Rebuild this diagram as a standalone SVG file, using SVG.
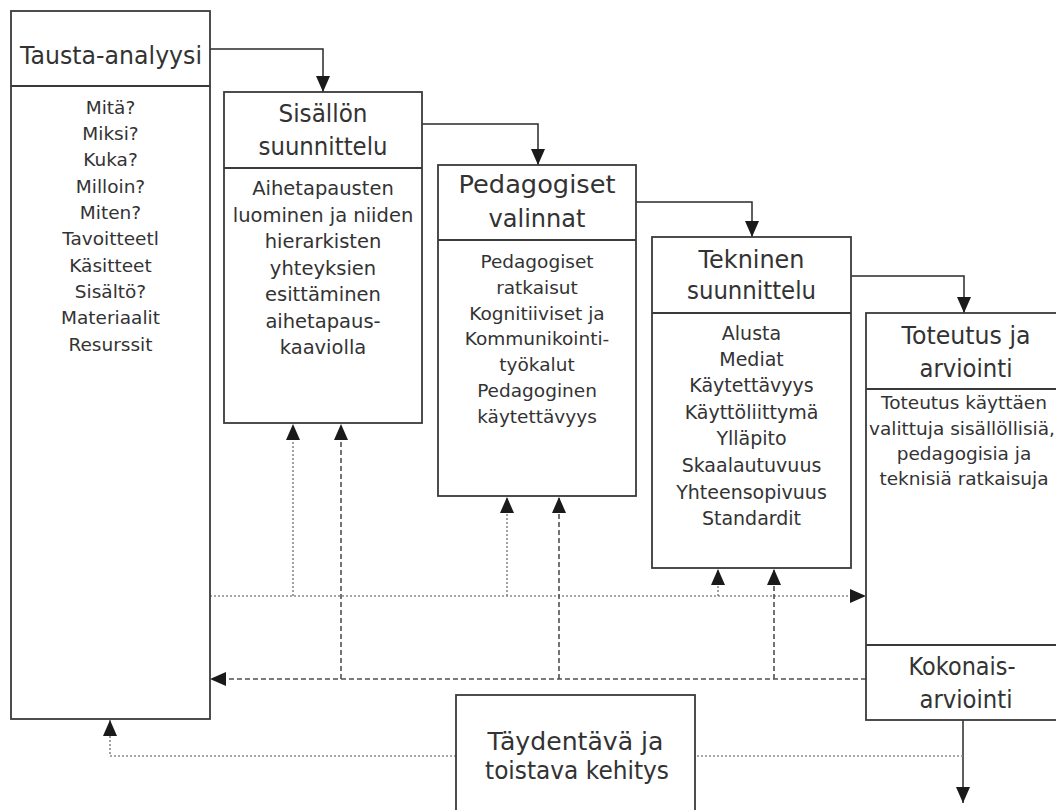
<svg xmlns="http://www.w3.org/2000/svg" width="1056" height="810" viewBox="0 0 1056 810">
<style>
  .box { fill: #ffffff; stroke: #3a3a3a; stroke-width: 1.8; }
  .div { stroke: #3a3a3a; stroke-width: 1.8; fill: none; }
  .solid { fill: none; stroke: #2a2a2a; stroke-width: 1.5; }
  .dot { fill: none; stroke: #8a8a8a; stroke-width: 1.6; stroke-dasharray: 2 2; }
  .dash { fill: none; stroke: #505050; stroke-width: 1.6; stroke-dasharray: 5 3; }
  text { font-family: "DejaVu Sans", "Liberation Sans", sans-serif; fill: #333333; text-anchor: middle; }
  .h { font-size: 25.5px; }
  .b1 { font-size: 18.5px; }
  .b2 { font-size: 19.5px; }
  .b3 { font-size: 18.5px; }
  .b4 { font-size: 19px; }
  .b5 { font-size: 18.5px; }
</style>
<defs>
  <marker id="ah" viewBox="0 0 16 14" refX="16" refY="7" markerWidth="16" markerHeight="14" markerUnits="userSpaceOnUse" orient="auto">
    <path d="M0,0 L16,7 L0,14 z" fill="#1a1a1a"/>
  </marker>
</defs>
<rect width="1056" height="810" fill="#ffffff"/>

<g id="connectors">
  <path class="solid" d="M210,49 H323 V92" marker-end="url(#ah)"/>
  <path class="solid" d="M422,124 H538 V165" marker-end="url(#ah)"/>
  <path class="solid" d="M636,202 H752 V237" marker-end="url(#ah)"/>
  <path class="solid" d="M851,276 H964 V313" marker-end="url(#ah)"/>
  <path class="dot" d="M210,596 H866" marker-end="url(#ah)"/>
  <path class="dot" d="M293,596 V424" marker-end="url(#ah)"/>
  <path class="dot" d="M507,596 V497" marker-end="url(#ah)"/>
  <path class="dot" d="M718,596 V569" marker-end="url(#ah)"/>
  <path class="dash" d="M866,679 H210" marker-end="url(#ah)"/>
  <path class="dash" d="M341,679 V424" marker-end="url(#ah)"/>
  <path class="dash" d="M559,679 V497" marker-end="url(#ah)"/>
  <path class="dash" d="M774,679 V569" marker-end="url(#ah)"/>
  <path class="solid" d="M963,720 V803" marker-end="url(#ah)"/>
  <path class="dot" d="M963,756 H695"/>
  <path class="dot" d="M456,756 H110 V720" marker-end="url(#ah)"/>
</g>

<g id="tausta-analyysi">
  <rect class="box" x="11" y="11" width="199" height="708"/>
  <line class="div" x1="11" y1="86" x2="210" y2="86"/>
  <text class="h" x="111" y="64" textLength="182" lengthAdjust="spacingAndGlyphs">Tausta-analyysi</text>
  <text class="b1" x="110.5" y="114">Mitä?</text>
  <text class="b1" x="110.5" y="140">Miksi?</text>
  <text class="b1" x="110.5" y="166">Kuka?</text>
  <text class="b1" x="110.5" y="193">Milloin?</text>
  <text class="b1" x="110.5" y="219">Miten?</text>
  <text class="b1" x="110.5" y="245">Tavoitteetl</text>
  <text class="b1" x="110.5" y="272">Käsitteet</text>
  <text class="b1" x="110.5" y="298">Sisältö?</text>
  <text class="b1" x="110.5" y="324">Materiaalit</text>
  <text class="b1" x="110.5" y="351">Resurssit</text>
</g>

<g id="sisallon-suunnittelu">
  <rect class="box" x="224" y="92" width="198" height="331"/>
  <line class="div" x1="224" y1="168" x2="422" y2="168"/>
  <text class="h" x="323" y="122" textLength="89" lengthAdjust="spacingAndGlyphs">Sisällön</text>
  <text class="h" x="323" y="155" textLength="129" lengthAdjust="spacingAndGlyphs">suunnittelu</text>
  <text class="b2" x="323" y="195">Aihetapausten</text>
  <text class="b2" x="323" y="221.5">luominen ja niiden</text>
  <text class="b2" x="323" y="248">hierarkisten</text>
  <text class="b2" x="323" y="274.5">yhteyksien</text>
  <text class="b2" x="323" y="301">esittäminen</text>
  <text class="b2" x="323" y="327.5">aihetapaus-</text>
  <text class="b2" x="323" y="354">kaaviolla</text>
</g>

<g id="pedagogiset-valinnat">
  <rect class="box" x="438" y="165" width="198" height="331"/>
  <line class="div" x1="438" y1="240" x2="636" y2="240"/>
  <text class="h" x="537" y="193" textLength="157" lengthAdjust="spacingAndGlyphs">Pedagogiset</text>
  <text class="h" x="537" y="227" textLength="97" lengthAdjust="spacingAndGlyphs">valinnat</text>
  <text class="b3" x="537" y="268">Pedagogiset</text>
  <text class="b3" x="537" y="294">ratkaisut</text>
  <text class="b3" x="537" y="320">Kognitiiviset ja</text>
  <text class="b3" x="537" y="345">Kommunikointi-</text>
  <text class="b3" x="537" y="371">työkalut</text>
  <text class="b3" x="537" y="397">Pedagoginen</text>
  <text class="b3" x="537" y="423">käytettävyys</text>
</g>

<g id="tekninen-suunnittelu">
  <rect class="box" x="652" y="237" width="199" height="331"/>
  <line class="div" x1="652" y1="313" x2="851" y2="313"/>
  <text class="h" x="751.5" y="268" textLength="106" lengthAdjust="spacingAndGlyphs">Tekninen</text>
  <text class="h" x="751.5" y="299" textLength="129" lengthAdjust="spacingAndGlyphs">suunnittelu</text>
  <text class="b4" x="751.5" y="340">Alusta</text>
  <text class="b4" x="751.5" y="366">Mediat</text>
  <text class="b4" x="751.5" y="392">Käytettävyys</text>
  <text class="b4" x="751.5" y="419">Käyttöliittymä</text>
  <text class="b4" x="751.5" y="445">Ylläpito</text>
  <text class="b4" x="751.5" y="472">Skaalautuvuus</text>
  <text class="b4" x="751.5" y="499">Yhteensopivuus</text>
  <text class="b4" x="751.5" y="525">Standardit</text>
</g>

<g id="toteutus-ja-arviointi">
  <rect class="box" x="866" y="313" width="210" height="407"/>
  <line class="div" x1="866" y1="389" x2="1076" y2="389"/>
  <line class="div" x1="866" y1="645" x2="1076" y2="645"/>
  <text class="h" x="966" y="344" textLength="129" lengthAdjust="spacingAndGlyphs">Toteutus ja</text>
  <text class="h" x="966" y="377" textLength="93" lengthAdjust="spacingAndGlyphs">arviointi</text>
  <text class="b5" x="964" y="409">Toteutus käyttäen</text>
  <text class="b5" x="962" y="435">valittuja sisällöllisiä,</text>
  <text class="b5" x="964" y="460">pedagogisia ja</text>
  <text class="b5" x="964" y="485">teknisiä ratkaisuja</text>
  <text class="h" x="962" y="675" textLength="107" lengthAdjust="spacingAndGlyphs">Kokonais-</text>
  <text class="h" x="966" y="708" textLength="93" lengthAdjust="spacingAndGlyphs">arviointi</text>
</g>

<g id="taydentava-kehitys">
  <rect class="box" x="456" y="695" width="239" height="140"/>
  <text class="h" x="575.5" y="750" textLength="176" lengthAdjust="spacingAndGlyphs">Täydentävä ja</text>
  <text class="h" x="577" y="779" textLength="184" lengthAdjust="spacingAndGlyphs">toistava kehitys</text>
</g>
</svg>
